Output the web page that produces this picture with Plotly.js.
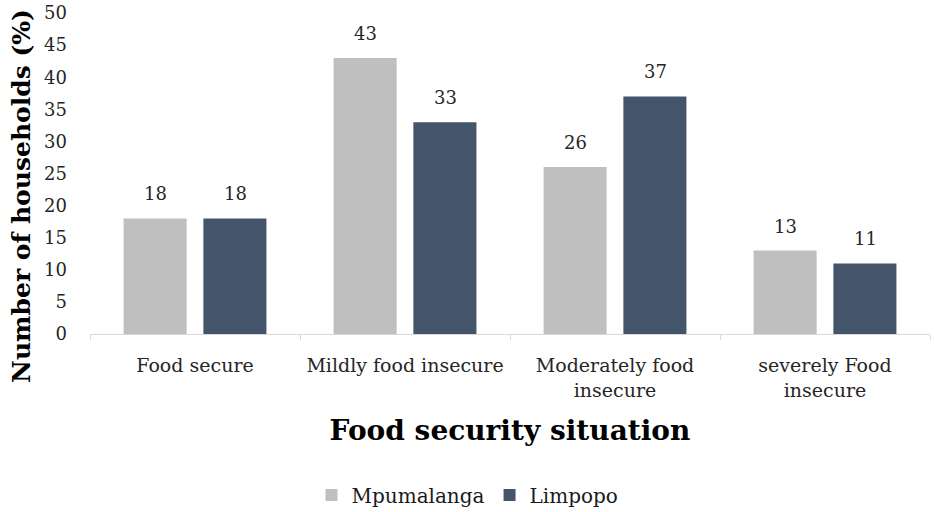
<!DOCTYPE html>
<html>
<head>
<meta charset="utf-8">
<script src="https://cdn.plot.ly/plotly-3.0.1.min.js"></script>
<style>
  html, body { margin: 0; padding: 0; background: #fff; }
  #chart { width: 935px; height: 512px; }
</style>
</head>
<body>
<div id="chart"></div>
<script>
// Food security situation by province
const categories = ['Food secure', 'Mildly food insecure', 'Moderately food<br>insecure', 'severely Food<br>insecure'];
const mpumalanga = [18, 43, 26, 13];
const limpopo = [18, 33, 37, 11];
const yTicks = [0, 5, 10, 15, 20, 25, 30, 35, 40, 45, 50];

const serif = "'DejaVu Serif', Georgia, serif";
const palette = { gray: '#bfbfbf', navy: '#44546a', axis: '#d9d9d9', text: '#262626' };

function barTrace(name, values, color) {
    return {
        type: 'bar',
        name: name,
        x: categories,
        y: values,
        marker: { color: color },
        hoverinfo: 'skip'
    };
}

// value labels sit a bit higher above the bars than plotly's own outside text
function valueLabels(values, shift) {
    return values.map(function (v, i) {
        return {
            x: categories[i],
            y: v,
            xref: 'x',
            yref: 'y',
            text: String(v),
            showarrow: false,
            xshift: shift,
            yanchor: 'bottom',
            yshift: 12,
            font: { family: serif, size: 18, color: palette.text }
        };
    });
}

// y title drawn as annotation: in the reference it sits lower than the plot centre
const yTitle = {
    text: '<b>Number of households (%)</b>',
    textangle: -90,
    xref: 'paper',
    yref: 'paper',
    x: 0,
    y: 0.43,
    xanchor: 'center',
    yanchor: 'middle',
    xshift: -68,
    showarrow: false,
    font: { family: serif, size: 25, color: '#000' }
};

const data = [
    barTrace('Mpumalanga', mpumalanga, palette.gray),
    barTrace('Limpopo', limpopo, palette.navy)
];

const layout = {
    width: 935,
    height: 512,
    margin: { l: 90, r: 5, t: 13, b: 178 },
    paper_bgcolor: '#fff',
    plot_bgcolor: '#fff',
    barmode: 'group',
    bargap: 0.24,
    bargroupgap: 0.21,
    font: { family: serif, color: palette.text },
    annotations: valueLabels(mpumalanga, -40).concat(valueLabels(limpopo, 40), [yTitle]),
    xaxis: {
        type: 'category',
        showline: true,
        linecolor: palette.axis,
        linewidth: 1,
        ticks: 'outside',
        tickson: 'boundaries',
        ticklen: 5,
        tickcolor: palette.axis,
        showgrid: false,
        ticklabelstandoff: 14,
        tickfont: { family: serif, size: 19, color: palette.text },
        title: {
            text: '<b>Food security situation</b>',
            font: { family: serif, size: 28, color: '#000' },
            standoff: 20
        }
    },
    yaxis: {
        range: [0, 50],
        tickvals: yTicks,
        showgrid: false,
        zeroline: false,
        showline: false,
        ticks: '',
        ticklabelstandoff: 22,
        tickfont: { family: serif, size: 18, color: palette.text }
    },
    legend: {
        orientation: 'h',
        xref: 'container',
        yref: 'container',
        x: 0.5,
        xanchor: 'center',
        y: 0.033,
        yanchor: 'middle',
        font: { family: serif, size: 20, color: '#1a1a1a' }
    },
    showlegend: true
};

Plotly.newPlot('chart', data, layout, { displayModeBar: false, staticPlot: true });
</script>
</body>
</html>
